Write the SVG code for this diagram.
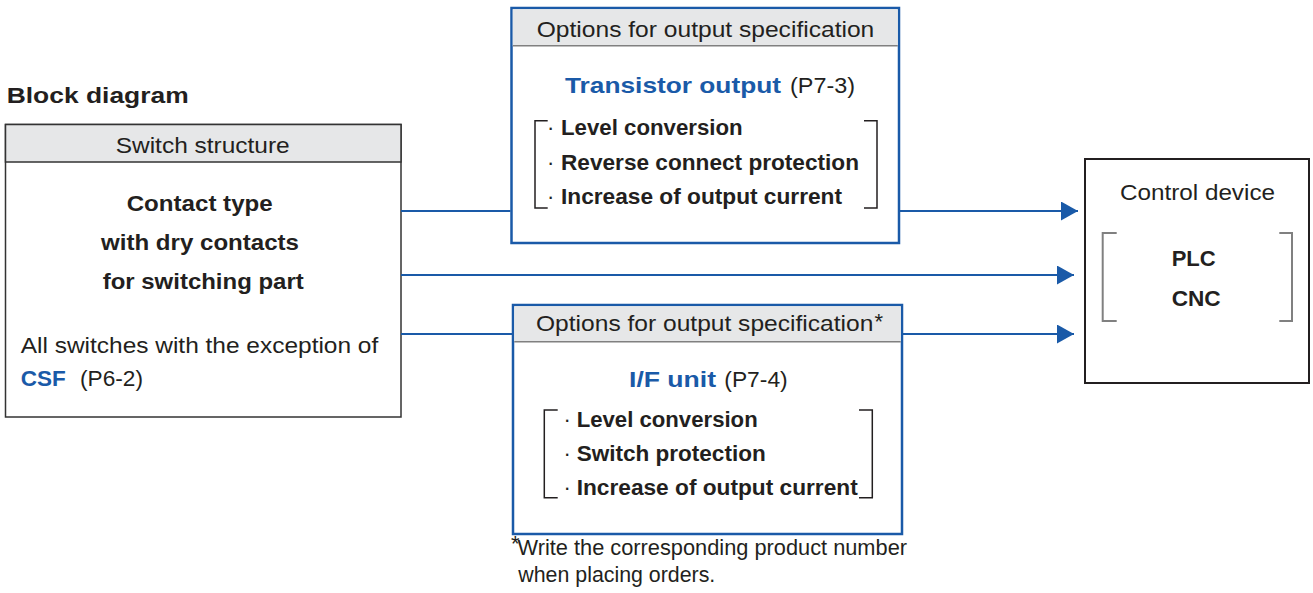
<svg xmlns="http://www.w3.org/2000/svg" width="1313" height="593" viewBox="0 0 1313 593">
<style>
text{font-family:"Liberation Sans",Arial,Helvetica,sans-serif;fill:#231f20;font-size:22px}
.b{font-weight:bold}
.blue{fill:#1a5aa8}
.hdr{fill:#e6e7e8}
.conn{stroke:#1a5aa8;stroke-width:2;fill:none}
.brk{fill:none;stroke:#231f20;stroke-width:1.5}
.gbrk{fill:none;stroke:#808080;stroke-width:2}
</style>
<defs>
<marker id="arr" markerUnits="userSpaceOnUse" markerWidth="18" markerHeight="20" refX="17" refY="9.5" orient="auto">
<path d="M0,0 L17,9.5 L0,19 z" fill="#1a5aa8"/>
</marker>
</defs>
<text id="title" class="b" x="6.7" y="103" font-size="24" textLength="182" lengthAdjust="spacingAndGlyphs">Block diagram</text>
<g id="switch">
<rect x="5.5" y="124.5" width="395.5" height="292.5" fill="#fff" stroke="#333" stroke-width="1.5"/>
<rect x="5.5" y="124.5" width="395.5" height="37.5" class="hdr" stroke="#333" stroke-width="1.5"/>
<text x="115.7" y="152.5" textLength="174" lengthAdjust="spacingAndGlyphs">Switch structure</text>
<text class="b" x="126.7" y="211" textLength="146" lengthAdjust="spacingAndGlyphs">Contact type</text>
<text class="b" x="101" y="250" textLength="198" lengthAdjust="spacingAndGlyphs">with dry contacts</text>
<text class="b" x="102.7" y="289" textLength="201" lengthAdjust="spacingAndGlyphs">for switching part</text>
<text x="20.7" y="352.5" textLength="357.6" lengthAdjust="spacingAndGlyphs">All switches with the exception of</text>
<text class="b blue" x="20.7" y="386" textLength="45" lengthAdjust="spacingAndGlyphs">CSF</text>
<text x="80" y="386" textLength="63" lengthAdjust="spacingAndGlyphs">(P6-2)</text>
</g>
<g id="transistor">
<rect x="511.5" y="8" width="387.5" height="235" fill="#fff" stroke="#1a5aa8" stroke-width="2.5"/>
<rect x="512.75" y="9.25" width="385" height="36.5" class="hdr"/>
<line x1="512.75" y1="45.75" x2="897.75" y2="45.75" stroke="#808080" stroke-width="1.5"/>
<text x="536.7" y="37.3" textLength="337.6" lengthAdjust="spacingAndGlyphs">Options for output specification</text>
<text class="b blue" x="565" y="93" textLength="216" lengthAdjust="spacingAndGlyphs">Transistor output</text>
<text x="790" y="93" textLength="65" lengthAdjust="spacingAndGlyphs">(P7-3)</text>
<path class="brk" d="M547.7,120.7 H535 V208 H547.7"/>
<path class="brk" d="M864,120.7 H877 V208 H864"/>
<text x="547" y="135">·</text>
<text x="547" y="170">·</text>
<text x="547" y="204">·</text>
<text class="b" x="561" y="135" textLength="181.7" lengthAdjust="spacingAndGlyphs">Level conversion</text>
<text class="b" x="561" y="170" textLength="298" lengthAdjust="spacingAndGlyphs">Reverse connect protection</text>
<text class="b" x="561" y="204" textLength="281" lengthAdjust="spacingAndGlyphs">Increase of output current</text>
</g>
<g id="ifunit">
<rect x="513" y="305" width="389" height="229" fill="#fff" stroke="#1a5aa8" stroke-width="2.5"/>
<rect x="514.25" y="306.25" width="386.5" height="35.5" class="hdr"/>
<line x1="514.25" y1="341.75" x2="900.75" y2="341.75" stroke="#808080" stroke-width="1.5"/>
<text x="536" y="331" textLength="337.3" lengthAdjust="spacingAndGlyphs">Options for output specification</text>
<text x="874.5" y="329" font-size="11">*</text>
<text class="b blue" x="629" y="386.5" textLength="87" lengthAdjust="spacingAndGlyphs">I/F unit</text>
<text x="724.3" y="386.5" textLength="63.4" lengthAdjust="spacingAndGlyphs">(P7-4)</text>
<path class="brk" d="M557.7,410 H544.3 V497.7 H557.7"/>
<path class="brk" d="M859,410 H872.3 V497.7 H859"/>
<text x="563.5" y="426.7">·</text>
<text x="563.5" y="461">·</text>
<text x="563.5" y="495">·</text>
<text class="b" x="576.7" y="426.7" textLength="181" lengthAdjust="spacingAndGlyphs">Level conversion</text>
<text class="b" x="576.7" y="461" textLength="189" lengthAdjust="spacingAndGlyphs">Switch protection</text>
<text class="b" x="576.7" y="495" textLength="281" lengthAdjust="spacingAndGlyphs">Increase of output current</text>
</g>
<g id="footnote">
<text x="511" y="551" font-size="11">*</text>
<text x="517.5" y="554.5" font-size="19.5" textLength="389.5" lengthAdjust="spacingAndGlyphs">Write the corresponding product number</text>
<text x="518.3" y="581.7" font-size="19.5" textLength="197" lengthAdjust="spacingAndGlyphs">when placing orders.</text>
</g>
<g id="control">
<rect x="1085" y="159" width="224" height="224" fill="#fff" stroke="#231f20" stroke-width="2"/>
<text x="1120" y="200" textLength="155" lengthAdjust="spacingAndGlyphs">Control device</text>
<path class="gbrk" d="M1116.7,233 H1102.7 V321 H1116.7"/>
<path class="gbrk" d="M1279.3,233 H1292 V321 H1279.3"/>
<text class="b" x="1171.7" y="265.7" textLength="44" lengthAdjust="spacingAndGlyphs">PLC</text>
<text class="b" x="1171.7" y="305.7" textLength="49" lengthAdjust="spacingAndGlyphs">CNC</text>
</g>
<g id="connectors">
<path class="conn" d="M401,211 H510.5"/>
<path class="conn" d="M900,211 H1078" marker-end="url(#arr)"/>
<path class="conn" d="M401,275 H1074" marker-end="url(#arr)"/>
<path class="conn" d="M401,334 H512"/>
<path class="conn" d="M903,334 H1074" marker-end="url(#arr)"/>
</g>
</svg>
